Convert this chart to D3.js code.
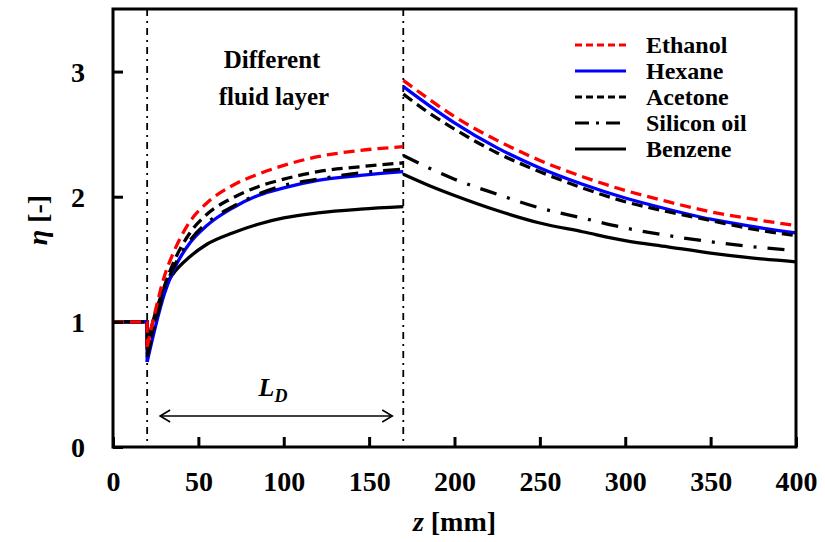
<!DOCTYPE html>
<html>
<head>
<meta charset="utf-8">
<script src="https://cdn.jsdelivr.net/npm/d3@7/dist/d3.min.js"></script>
<style>
  html, body { margin: 0; padding: 0; background: #fff; }
  svg { display: block; }
  text { font-family: "Liberation Serif", "Times New Roman", serif; font-weight: bold; fill: #000; }
</style>
</head>
<body>
<svg id="chart" width="825" height="542"></svg>
<script>
// Axial positions (mm) of the three zones: inlet, fluid layer, outlet
const zInlet = [0, 20];
const zLayer = [20, 25, 30, 35, 45, 55, 70, 85, 100, 120, 145, 170];
const zOutlet = [170, 185, 200, 225, 250, 275, 300, 325, 350, 375, 400];

const fluids = ["Ethanol", "Hexane", "Acetone", "Silicon oil", "Benzene"];

// η in the inlet zone (same for every fluid)
const etaInlet = [1, 1];

// η inside the different-fluid layer
const ethanolLayer   = [0.80, 1.10, 1.36, 1.54, 1.80, 1.95, 2.09, 2.18, 2.25, 2.32, 2.37, 2.40];
const hexaneLayer    = [0.68, 0.97, 1.22, 1.40, 1.63, 1.77, 1.91, 2.01, 2.07, 2.13, 2.17, 2.20];
const acetoneLayer   = [0.74, 1.03, 1.28, 1.46, 1.71, 1.86, 1.99, 2.08, 2.14, 2.20, 2.24, 2.27];
const siliconLayer   = [0.72, 1.00, 1.25, 1.42, 1.65, 1.79, 1.92, 2.02, 2.09, 2.14, 2.19, 2.22];
const benzeneLayer   = [0.82, 1.08, 1.27, 1.38, 1.52, 1.62, 1.71, 1.78, 1.83, 1.87, 1.90, 1.92];

// η downstream of the layer
const ethanolOutlet  = [2.93, 2.78, 2.64, 2.45, 2.29, 2.16, 2.05, 1.96, 1.88, 1.82, 1.77];
const hexaneOutlet   = [2.88, 2.73, 2.59, 2.39, 2.23, 2.10, 1.99, 1.90, 1.82, 1.76, 1.71];
const acetoneOutlet  = [2.82, 2.67, 2.54, 2.35, 2.20, 2.07, 1.96, 1.88, 1.81, 1.74, 1.69];
const siliconOutlet  = [2.33, 2.23, 2.14, 2.02, 1.91, 1.83, 1.75, 1.69, 1.64, 1.60, 1.57];
const benzeneOutlet  = [2.18, 2.09, 2.01, 1.89, 1.79, 1.72, 1.65, 1.60, 1.55, 1.51, 1.48];

const xTicks = [0, 50, 100, 150, 200, 250, 300, 350, 400];
const yTicks = [0, 1, 2, 3];
const layerBounds = [20, 170];

const styles = {
  "Ethanol":     { color: "#ff0000", dash: "11,6" },
  "Hexane":      { color: "#0000ff", dash: null },
  "Acetone":     { color: "#000000", dash: "11,6" },
  "Silicon oil": { color: "#000000", dash: "17,11,3,11" },
  "Benzene":     { color: "#000000", dash: null }
};

const series = [
  { name: "Ethanol",     layer: ethanolLayer, outlet: ethanolOutlet },
  { name: "Hexane",      layer: hexaneLayer,  outlet: hexaneOutlet },
  { name: "Acetone",     layer: acetoneLayer, outlet: acetoneOutlet },
  { name: "Silicon oil", layer: siliconLayer, outlet: siliconOutlet },
  { name: "Benzene",     layer: benzeneLayer, outlet: benzeneOutlet }
];

const svg = d3.select("#chart");
const m = { left: 113, right: 796, top: 9, bottom: 447 };

const x = d3.scaleLinear().domain([0, 400]).range([m.left, m.right]);
const y = d3.scaleLinear().domain([0, 3.5]).range([m.bottom, m.top]);

// layer boundaries (dash-dot verticals)
svg.append("g").selectAll("line").data(layerBounds).join("line")
  .attr("x1", d => x(d)).attr("x2", d => x(d))
  .attr("y1", m.top).attr("y2", m.bottom)
  .attr("stroke", "#000").attr("stroke-width", 1.8)
  .attr("stroke-dasharray", "7,5,2,5");

const smooth = d3.line().x(d => x(d[0])).y(d => y(d[1])).curve(d3.curveMonotoneX);
const straight = d3.line().x(d => x(d[0])).y(d => y(d[1]));

const drawOrder = ["Benzene", "Hexane", "Silicon oil", "Acetone", "Ethanol"];
const curves = svg.append("g").attr("fill", "none");
drawOrder.forEach(name => {
  const s = series.find(d => d.name === name);
  const st = styles[name];
  const inlet = zInlet.map((z, i) => [z, etaInlet[i]]).concat([[zLayer[0], s.layer[0]]]);
  const layer = zLayer.map((z, i) => [z, s.layer[i]]);
  const outlet = zOutlet.map((z, i) => [z, s.outlet[i]]);
  [[inlet, straight], [layer, smooth], [outlet, smooth]].forEach(([pts, gen]) => {
    curves.append("path")
      .attr("d", gen(pts))
      .attr("stroke", st.color)
      .attr("stroke-width", 3.3)
      .attr("stroke-dasharray", st.dash);
  });
});

// axes: ticks pointing inward, labels outside
const xAxis = svg.append("g").attr("transform", `translate(0,${m.bottom})`)
  .call(d3.axisBottom(x).tickValues(xTicks).tickSize(-10).tickPadding(24).tickFormat(d3.format("d")));
const yAxis = svg.append("g").attr("transform", `translate(${m.left},0)`)
  .call(d3.axisLeft(y).tickValues(yTicks).tickSize(-10).tickPadding(28).tickFormat(d3.format("d")));
[xAxis, yAxis].forEach(g => {
  g.select(".domain").remove();
  g.selectAll(".tick line").attr("stroke", "#000").attr("stroke-width", 3);
  g.selectAll(".tick text")
    .attr("font-family", "Liberation Serif, serif")
    .attr("font-weight", "bold").attr("font-size", 28).attr("fill", "#000");
});
yAxis.selectAll(".tick text").attr("dy", "0.34em");

// plot frame
svg.append("rect")
  .attr("x", m.left).attr("y", m.top)
  .attr("width", m.right - m.left).attr("height", m.bottom - m.top)
  .attr("fill", "none").attr("stroke", "#000").attr("stroke-width", 3);

// axis titles
const xt = svg.append("text").attr("x", (m.left + m.right) / 2).attr("y", 531)
  .attr("text-anchor", "middle").attr("font-size", 28);
xt.append("tspan").attr("font-style", "italic").text("z");
xt.append("tspan").text(" [mm]");

const yt = svg.append("text")
  .attr("transform", `translate(47,${(m.top + m.bottom) / 2 - 8}) rotate(-90)`)
  .attr("text-anchor", "middle").attr("font-size", 28);
yt.append("tspan").attr("font-style", "italic").text("η");
yt.append("tspan").text(" [-]");

// layer annotation
svg.append("text").attr("x", 272).attr("y", 68).attr("text-anchor", "middle")
  .attr("font-size", 25).text("Different");
svg.append("text").attr("x", 274).attr("y", 105).attr("text-anchor", "middle")
  .attr("font-size", 25).text("fluid layer");

// L_D dimension arrow
const ld = svg.append("text").attr("x", 273).attr("y", 396).attr("text-anchor", "middle")
  .attr("font-size", 26).attr("font-style", "italic");
ld.append("tspan").text("L");
ld.append("tspan").attr("font-size", 18).attr("dy", 6).text("D");

const arrowY = 416, ax0 = x(layerBounds[0]) + 13, ax1 = x(layerBounds[1]) - 11;
const arrow = svg.append("g").attr("stroke", "#000").attr("stroke-width", 1.6).attr("fill", "none");
arrow.append("line").attr("x1", ax0).attr("x2", ax1).attr("y1", arrowY).attr("y2", arrowY);
arrow.append("path").attr("d", `M${ax0 + 10},${arrowY - 6} L${ax0},${arrowY} L${ax0 + 10},${arrowY + 6}`);
arrow.append("path").attr("d", `M${ax1 - 10},${arrowY - 6} L${ax1},${arrowY} L${ax1 - 10},${arrowY + 6}`);

// legend
const legend = svg.append("g");
const rowY = [45, 71, 97, 123, 149];
fluids.forEach((name, i) => {
  const st = styles[name];
  legend.append("line")
    .attr("x1", 575).attr("x2", 626).attr("y1", rowY[i]).attr("y2", rowY[i])
    .attr("stroke", st.color).attr("stroke-width", 3.2)
    .attr("stroke-dasharray", name === "Silicon oil" ? "14,7,3,7" : (st.dash ? "7,4" : null));
  legend.append("text").attr("x", 646).attr("y", rowY[i] + 8)
    .attr("font-size", 24).text(name);
});
</script>
</body>
</html>
